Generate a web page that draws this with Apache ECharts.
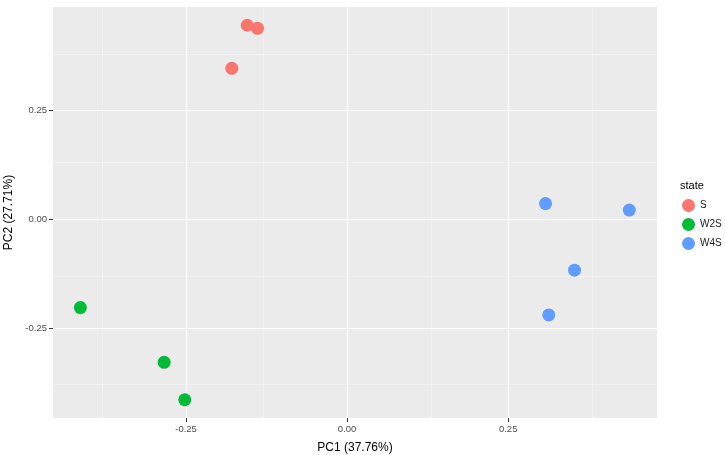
<!DOCTYPE html>
<html><head><meta charset="utf-8">
<script src="https://cdn.jsdelivr.net/npm/echarts@6/dist/echarts.min.js"></script>
<style>html,body{margin:0;padding:0;background:#fff}#c{width:725px;height:455px}</style>
</head><body><div id="c"></div>
<script>
const seriesNames = ['S', 'W2S', 'W4S'];
const colors = ['#F8766D', '#00BA38', '#619CFF'];
const S = [[-0.155, 0.446], [-0.139, 0.439], [-0.179, 0.347]];
const W2S = [[-0.414, -0.203], [-0.284, -0.329], [-0.252, -0.415]];
const W4S = [[0.308, 0.036], [0.438, 0.021], [0.353, -0.117], [0.313, -0.220]];
const xTicks = [-0.25, 0, 0.25];
const yTicks = [-0.25, 0, 0.25];
const xMinor = [-0.375, -0.125, 0.125, 0.375];
const yMinor = [-0.375, -0.125, 0.125, 0.375];
const xRange = [-0.4565, 0.481];
const yRange = [-0.457, 0.488];
const xName = 'PC1 (37.76%)';
const yName = 'PC2 (27.71%)';
const legendTitle = 'state';

const fmt = v => v.toFixed(2);
const font = 'Liberation Sans, Arial, sans-serif';

const gridLines = [
  ...xMinor.map(v => ({xAxis: v, lineStyle: {width: 0.6, color: '#f7f7f7', type: 'solid'}})),
  ...yMinor.map(v => ({yAxis: v, lineStyle: {width: 0.6, color: '#f7f7f7', type: 'solid'}})),
  ...xTicks.map(v => ({xAxis: v, lineStyle: {width: 1.2, color: '#ffffff', type: 'solid'}})),
  ...yTicks.map(v => ({yAxis: v, lineStyle: {width: 1.2, color: '#ffffff', type: 'solid'}}))
];

const dataSets = [S, W2S, W4S];
const series = dataSets.map((d, i) => ({
  name: seriesNames[i],
  type: 'scatter',
  data: d,
  symbolSize: 13,
  itemStyle: {color: colors[i], opacity: 1},
  z: 10
}));
series.push({
  type: 'line', data: [], silent: true, z: 1,
  markLine: {silent: true, z: 1, symbol: ['none', 'none'], label: {show: false},
    lineStyle: {type: 'solid'}, emphasis: {disabled: true},
    animation: false, data: gridLines}
});

const axisCommon = {
  nameLocation: 'middle',
  nameTextStyle: {fontSize: 12, color: '#000', fontFamily: font},
  axisLine: {show: true, onZero: false, lineStyle: {color: 'rgba(0,0,0,0)', width: 0}},
  splitLine: {show: false},
  minorSplitLine: {show: false}
};

const chart = echarts.init(document.getElementById('c'));
chart.setOption({
  animation: false,
  textStyle: {fontFamily: font},
  grid: {left: 53, right: 68, top: 7, bottom: 37, show: true, containLabel: false,
    outerBoundsMode: 'none',
    backgroundColor: '#EBEBEB', borderWidth: 0},
  title: {text: legendTitle, left: 675, top: 175,
    textStyle: {fontSize: 11, fontWeight: 'normal', color: '#000', fontFamily: font}},
  legend: {
    data: seriesNames, orient: 'vertical', left: 677, top: 194,
    icon: 'circle', itemWidth: 13, itemHeight: 13, itemGap: 6,
    textStyle: {fontSize: 10, color: '#1a1a1a', fontFamily: font}
  },
  xAxis: Object.assign({}, axisCommon, {
    type: 'value', min: xRange[0], max: xRange[1],
    name: xName, nameGap: 24,
    axisTick: {show: true, inside: false, length: 4, customValues: xTicks, lineStyle: {color: '#333333', width: 1}},
    axisLabel: {customValues: xTicks, formatter: fmt, fontSize: 9.5, color: '#4D4D4D', margin: 6}
  }),
  yAxis: Object.assign({}, axisCommon, {
    type: 'value', min: yRange[0], max: yRange[1],
    name: yName, nameGap: 38,
    axisTick: {show: true, inside: false, length: 4, customValues: yTicks, lineStyle: {color: '#333333', width: 1}},
    axisLabel: {customValues: yTicks, formatter: fmt, fontSize: 9.5, color: '#4D4D4D', margin: 6}
  }),
  series: series
});
</script></body></html>
